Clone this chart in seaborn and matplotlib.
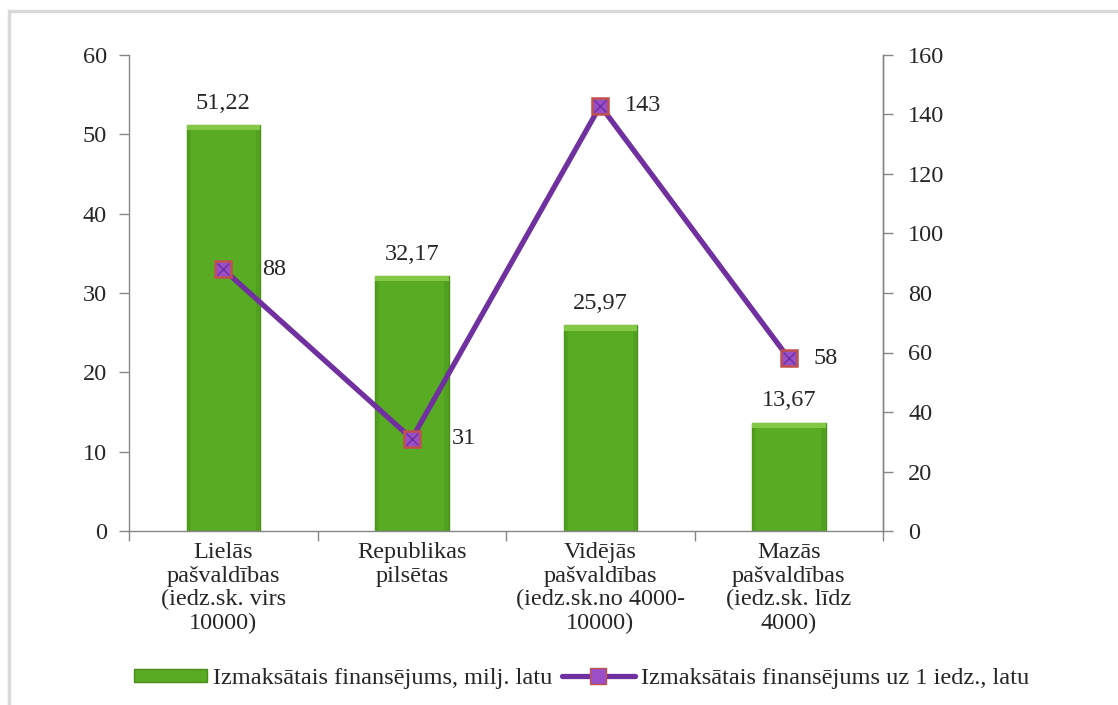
import numpy as np
import pandas as pd
import matplotlib
matplotlib.use("Agg")
import matplotlib.pyplot as plt
import seaborn as sns
from matplotlib.lines import Line2D
from matplotlib.patches import Patch, Rectangle

categories = [
    "Lielās\npašvaldības\n(iedz.sk. virs\n10000)",
    "Republikas\npilsētas",
    "Vidējās\npašvaldības\n(iedz.sk.no 4000-\n10000)",
    "Mazās\npašvaldības\n(iedz.sk. līdz\n4000)",
]
funding_mln = [51.22, 32.17, 25.97, 13.67]
funding_per_capita = [88, 31, 143, 58]
left_ticks = [0, 10, 20, 30, 40, 50, 60]
right_ticks = [0, 20, 40, 60, 80, 100, 120, 140, 160]

bar_label = "Izmaksātais finansējums, milj. latu"
line_label = "Izmaksātais finansējums uz 1 iedz., latu"

sns.set_theme(style="white")
plt.rcParams["font.family"] = ["Liberation Serif", "DejaVu Serif"]
FS = 17.5

df = pd.DataFrame({"cat": categories, "mln": funding_mln, "pc": funding_per_capita})

fig = plt.figure(figsize=(11.18, 7.05), dpi=100)
# light outer frame of the chart area
fig.add_artist(Rectangle((9 / 1118, -0.1), 1.2, 1 - 11 / 705 + 0.1,
                         transform=fig.transFigure, fill=False,
                         edgecolor="#d9d9d9", linewidth=2.5))

ax = fig.add_axes([0.1154, 0.2468, 0.6745, 0.6752])
bar_green = "#5aab24"
sns.barplot(data=df, x="cat", y="mln", color=bar_green, width=0.39,
            saturation=1, edgecolor="#4a8f1c", linewidth=1.0, ax=ax)

# bevelled look: a light band along the top of each bar and darker sides
for p in ax.patches:
    x0, w, h = p.get_x(), p.get_width(), p.get_height()
    band = 0.7  # data units on the left axis
    ax.add_patch(Rectangle((x0, h - band), w, band, facecolor="#84c946",
                           edgecolor="none", zorder=p.get_zorder() + 0.1))
    for xs in (x0, x0 + w - w * 0.06):
        ax.add_patch(Rectangle((xs, 0), w * 0.06, h - band, facecolor="#4c9a1c",
                               edgecolor="none", alpha=0.6, zorder=p.get_zorder() + 0.1))

ax.set_ylim(0, 60)
ax.set_xlim(-0.5, 3.5)
ax.set_yticks(left_ticks)
ax.set_yticklabels([str(t) for t in left_ticks], fontsize=FS)
ax.set_xlabel("")
ax.set_ylabel("")
ax.set_xticks(np.arange(len(categories)))
ax.set_xticklabels(categories, fontsize=FS, linespacing=1.15)
ax.tick_params(axis="x", length=0, pad=8)
ax.tick_params(axis="y", length=7, width=1, color="#868686", direction="out", pad=9, left=True)
# category boundary ticks on the x axis
ax.set_xticks(np.arange(-0.5, len(categories)), minor=True)
ax.tick_params(axis="x", which="minor", length=7, width=1, color="#868686", direction="out", bottom=True)

ax.spines["top"].set_visible(False)
for s in ["left", "bottom", "right"]:
    ax.spines[s].set_color("#868686")
    ax.spines[s].set_linewidth(1)

for i, v in enumerate(funding_mln):
    ax.annotate(f"{v:.2f}".replace(".", ","), (i, v), xytext=(0, 8),
                textcoords="offset points", ha="center", va="bottom", fontsize=FS)

ax2 = ax.twinx()
line_purple = "#7030a0"
x_idx = np.arange(len(categories))
sns.lineplot(x=x_idx, y=funding_per_capita, color=line_purple, linewidth=3.8,
             marker="s", markersize=12, markerfacecolor="#9a4fc8",
             markeredgecolor="#c0504d", markeredgewidth=1.8, ax=ax2)
ax2.plot(x_idx, funding_per_capita, linestyle="none", marker="x", markersize=8,
         markeredgecolor="#6a2fa0", markeredgewidth=1.0, zorder=5)
ax2.set_ylim(0, 160)
ax2.set_xlim(-0.5, 3.5)
ax2.set_yticks(right_ticks)
ax2.set_yticklabels([str(t) for t in right_ticks], fontsize=FS)
ax2.tick_params(axis="y", length=7, width=1, color="#868686", direction="out", pad=11, right=True)
ax2.set_ylabel("")
for s in ["top", "left", "bottom"]:
    ax2.spines[s].set_visible(False)
ax2.spines["right"].set_color("#868686")
ax2.spines["right"].set_linewidth(1)

label_dx = [28, 29, 18, 18]
for i, v in enumerate(funding_per_capita):
    ax2.annotate(str(v), (i, v), xytext=(label_dx[i], 0), textcoords="offset points",
                 ha="left", va="center", fontsize=FS)

handles = [
    Patch(facecolor=bar_green, edgecolor="#4a8f1c", label=bar_label),
    Line2D([0], [0], color=line_purple, linewidth=3.8, marker="s", markersize=12,
           markerfacecolor="#9a4fc8", markeredgecolor="#c0504d", label=line_label),
]
fig.legend(handles=handles, loc="center", bbox_to_anchor=(0.52, 0.038), ncol=2,
           frameon=False, fontsize=FS, handlelength=3.0, handleheight=0.45,
           columnspacing=0.4, handletextpad=0.25)

fig.savefig("out.png", dpi=100)
